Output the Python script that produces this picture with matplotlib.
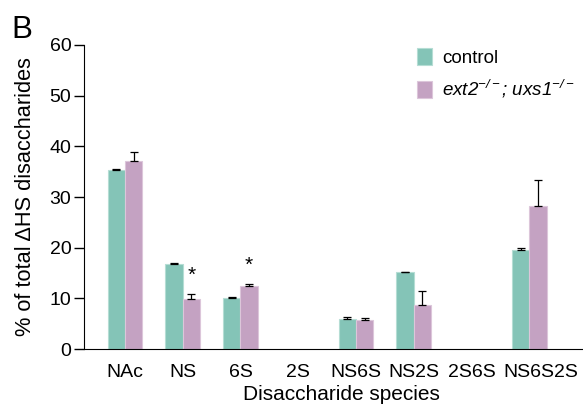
import matplotlib.pyplot as plt
import matplotlib.transforms as mtransforms
import numpy as np

plt.rcParams['font.family'] = ['Liberation Sans', 'DejaVu Sans']
plt.rcParams['mathtext.fontset'] = 'custom'
plt.rcParams['mathtext.rm'] = 'Liberation Sans:italic'
plt.rcParams['mathtext.it'] = 'Liberation Sans:italic'

species = ["NAc", "NS", "6S", "2S", "NS6S", "NS2S", "2S6S", "NS6S2S"]
control = [35.4, 16.7, 10.1, 0, 6.0, 15.2, 0, 19.5]
control_err = [0.2, 0.2, 0.1, 0, 0.4, 0.05, 0, 0.5]
mutant = [37.2, 9.9, 12.4, 0, 5.8, 8.8, 0, 28.3]
mutant_err = [1.6, 0.9, 0.4, 0, 0.25, 2.6, 0, 5.0]
stars = {1: 14.6, 2: 16.6}

teal = "#84c4b7"
mauve = "#c4a2c2"

fig = plt.figure(figsize=[5.83, 4.05], dpi=100)
ax = fig.add_axes([0.144, 0.138, 0.856, 0.751])

x = np.arange(len(species))
w = 0.3
show_c = [i for i in x if control[i] > 0]
show_m = [i for i in x if mutant[i] > 0]
ax.bar(x[show_c] - w / 2, [control[i] for i in show_c], w, color=teal,
       edgecolor="#b5ddd4", linewidth=0.8, label="control")
ax.bar(x[show_m] + w / 2, [mutant[i] for i in show_m], w, color=mauve,
       edgecolor="#dcc6da", linewidth=0.8,
       label=r"$ext2^{-/-}$; $uxs1^{-/-}$")
ax.errorbar(x[show_c] - w / 2, [control[i] for i in show_c],
            yerr=[[0] * len(show_c), [control_err[i] for i in show_c]],
            fmt="none", ecolor="black", elinewidth=0.9, capsize=3, capthick=0.9)
ax.errorbar(x[show_m] + w / 2, [mutant[i] for i in show_m],
            yerr=[[0] * len(show_m), [mutant_err[i] for i in show_m]],
            fmt="none", ecolor="black", elinewidth=0.9, capsize=3, capthick=0.9)
for i, yv in stars.items():
    ax.text(i + w / 2, yv, "*", ha="center", va="center", fontsize=15)

ax.set_xlim(-0.71, 7.93)
ax.set_ylim(0, 60)
ax.set_yticks(range(0, 61, 10))
ax.set_xticks(x)
ax.set_xticklabels(species, fontsize=14)
ax.tick_params(axis="x", length=0, pad=11)
ax.tick_params(axis="y", labelsize=14, length=7, width=1, direction="out", pad=2)
# last label sits a bit right of its bars in the original
last = ax.get_xticklabels()[-1]
last.set_transform(last.get_transform() +
                   mtransforms.ScaledTranslation(0.12, 0, fig.dpi_scale_trans))
ax.spines["top"].set_visible(False)
ax.spines["right"].set_visible(False)
ax.set_xlabel("Disaccharide species", fontsize=15)
ax.xaxis.set_label_coords(0.516, -0.118)
ax.set_ylabel("% of total ΔHS disaccharides", fontsize=15.7, labelpad=10)

ax.legend(loc="upper left", bbox_to_anchor=(0.667, 0.99), frameon=False,
          fontsize=13.5, handlelength=0.8, handleheight=1.05, handletextpad=0.55,
          labelspacing=0.6, borderpad=0, borderaxespad=0)
ax.get_legend().get_texts()[1].set_fontstyle("italic")

fig.text(0.02, 0.905, "B", fontsize=22.5)

fig.savefig("out.png", dpi=100)
